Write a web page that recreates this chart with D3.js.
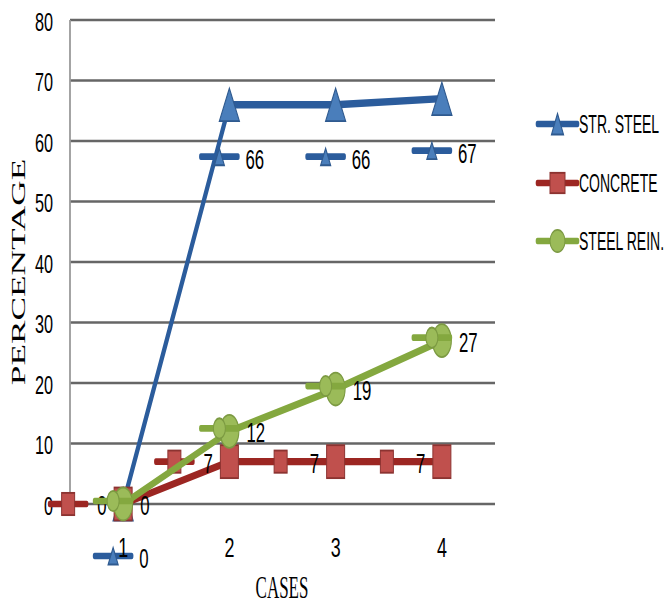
<!DOCTYPE html>
<html>
<head>
<meta charset="utf-8">
<script src="https://cdn.jsdelivr.net/npm/d3@7"></script>
<style>
  html, body { margin: 0; padding: 0; background: #fff; }
  svg { display: block; }
</style>
</head>
<body>
<script>
// ---- data ----
const cases = ["1", "2", "3", "4"];
const seriesNames = ["STR. STEEL", "CONCRETE", "STEEL REIN."];
const strSteel = [0, 66, 66, 67];
const concrete = [0, 7, 7, 7];
const steelRein = [0, 12, 19, 27];
const yTicks = [0, 10, 20, 30, 40, 50, 60, 70, 80];
const yTitle = "PERCENTAGE";
const xTitle = "CASES";

// ---- layout ----
const W = 669, H = 606;
const K = 1.85;               // vertical stretch applied to the plot marks
const plot = { left: 70, right: 495, top: 20, bottom: 504 };
const SANS = "'Liberation Sans', Arial, sans-serif";
const SERIF = "'Liberation Serif', 'Times New Roman', serif";

const x = d3.scaleBand().domain(cases).range([plot.left, plot.right]).padding(0);
const y = d3.scaleLinear().domain([0, 80]).range([plot.bottom, plot.top]);
const cx = c => x(c) + x.bandwidth() / 2;

const svg = d3.select("body").append("svg")
  .attr("width", W).attr("height", H)
  .attr("viewBox", `0 0 ${W} ${H}`);
svg.append("rect").attr("width", W).attr("height", H).attr("fill", "#fff");

// horizontal gridlines
svg.append("g").selectAll("line").data(yTicks).join("line")
  .attr("x1", plot.left).attr("x2", plot.right)
  .attr("y1", d => y(d)).attr("y2", d => y(d))
  .attr("stroke", "#666").attr("stroke-width", 2.4);

// vertical value axis line
svg.append("line")
  .attr("x1", plot.left).attr("x2", plot.left)
  .attr("y1", plot.top).attr("y2", plot.bottom)
  .attr("stroke", "#9a9a9a").attr("stroke-width", 1.8);

// text helper: centred vertically on cy, squeezed horizontally by sx
function label(g, str, xPos, cy, size, sx, anchor, family) {
  return g.append("text")
    .attr("transform", `translate(${xPos},${cy + 0.358 * size}) scale(${sx},1)`)
    .attr("text-anchor", anchor)
    .attr("font-family", family || SANS)
    .attr("font-size", size)
    .attr("fill", "#000")
    .text(str);
}

// value axis tick labels
const yAxis = svg.append("g").attr("transform", `translate(53,0)`)
  .call(d3.axisLeft(y).tickValues(yTicks).tickSize(0).tickPadding(0));
yAxis.select(".domain").remove();
yAxis.selectAll(".tick text")
  .attr("x", null).attr("dy", null)
  .attr("transform", `translate(0,${1.5 + 0.358 * 25}) scale(0.65,1)`)
  .attr("font-family", SANS).attr("font-size", 25)
  .attr("text-anchor", "end").attr("fill", "#000");

// marker shapes (drawn in stretched coordinates)
function marker(g, shape, px, py, w, h, fill, stroke) {
  if (shape === "triangle") {
    g.append("path")
      .attr("d", `M${px},${py - h / 2} L${px + w / 2},${py + h / 2} L${px - w / 2},${py + h / 2} Z`)
      .attr("fill", fill).attr("stroke", stroke).attr("stroke-width", 1);
  } else if (shape === "square") {
    g.append("rect")
      .attr("x", px - w / 2).attr("y", py - h / 2).attr("width", w).attr("height", h)
      .attr("fill", fill).attr("stroke", stroke).attr("stroke-width", 1);
  } else {
    g.append("ellipse")
      .attr("cx", px).attr("cy", py).attr("rx", w / 2).attr("ry", h / 2)
      .attr("fill", fill).attr("stroke", stroke).attr("stroke-width", 1);
  }
}

function legendKey(g, shape, kx, ky, len, mw, mh, s) {
  g.append("line")
    .attr("x1", kx - len / 2).attr("x2", kx + len / 2)
    .attr("y1", ky).attr("y2", ky)
    .attr("stroke", s.line).attr("stroke-width", 3.6).attr("stroke-linecap", "round");
  marker(g, shape, kx, ky, mw, mh, s.fill, s.stroke);
}

const series = [
  { name: seriesNames[0], values: strSteel, shape: "triangle",
    line: "#2b5c9c", fill: "#4a7ebb", stroke: "#2f5a8f",
    mw: 20, mh: 17.8, kw: 10, kh: 9.2,
    keyDx: -10, keyDy: 52, textDx: 16, textDy: 54 },
  { name: seriesNames[1], values: concrete, shape: "square",
    line: "#9c2622", fill: "#c0504d", stroke: "#8c3331",
    mw: 18, mh: 17.8, kw: 13, kh: 12,
    keyDx: -55, keyDy: 0, textDx: -26, textDy: 1 },
  { name: seriesNames[2], values: steelRein, shape: "circle",
    line: "#84a83f", fill: "#9bbb59", stroke: "#7c9a42",
    mw: 19, mh: 17.8, kw: 12, kh: 11,
    keyDx: -10, keyDy: -3, textDx: 17, textDy: 1 }
];

const lineGen = d3.line().x(d => d.x).y(d => d.y / K);

series.forEach(s => {
  const sg = svg.append("g");
  const st = sg.append("g").attr("transform", `scale(1,${K})`);
  const pts = s.values.map((v, i) => ({ x: cx(cases[i]), y: y(v), v }));

  st.append("path").datum(pts)
    .attr("d", lineGen)
    .attr("fill", "none").attr("stroke", s.line)
    .attr("stroke-width", 4).attr("stroke-linejoin", "round");

  pts.forEach(p => marker(st, s.shape, p.x, p.y / K, s.mw, s.mh, s.fill, s.stroke));

  // data labels with legend keys
  pts.forEach(p => {
    legendKey(st, s.shape, p.x + s.keyDx, (p.y + s.keyDy) / K, 37, s.kw, s.kh, s);
    label(sg, String(p.v), p.x + s.textDx, p.y + s.textDy, 28, 0.6, "start");
  });
});

// category axis labels
const xAxis = svg.append("g").attr("transform", `translate(0,547)`)
  .call(d3.axisBottom(x).tickSize(0).tickPadding(0));
xAxis.select(".domain").remove();
xAxis.selectAll(".tick text")
  .attr("y", null).attr("dy", null)
  .attr("transform", `translate(0,${0.358 * 28}) scale(0.64,1)`)
  .attr("font-family", SANS).attr("font-size", 28)
  .attr("text-anchor", "middle").attr("fill", "#000");

// legend
const lg = svg.append("g");
const lgSt = lg.append("g").attr("transform", `scale(1,${K})`);
const legendY = [124, 183, 241];
const legendMarker = [[12, 11.4], [15, 11], [15, 12]];
series.forEach((s, i) => {
  legendKey(lgSt, s.shape, 557.5, legendY[i] / K, 40, legendMarker[i][0], legendMarker[i][1], s);
  label(lg, s.name, 579, legendY[i], 25, 0.56, "start");
});

// axis titles
svg.append("text")
  .attr("transform", `translate(25,272) rotate(-90) scale(1.96,1)`)
  .attr("text-anchor", "middle")
  .attr("font-family", SERIF).attr("font-size", 18).attr("fill", "#000")
  .text(yTitle);

svg.append("text")
  .attr("transform", `translate(282,598) scale(0.53,1)`)
  .attr("text-anchor", "middle")
  .attr("font-family", SERIF).attr("font-size", 32).attr("fill", "#000")
  .text(xTitle);
</script>
</body>
</html>
